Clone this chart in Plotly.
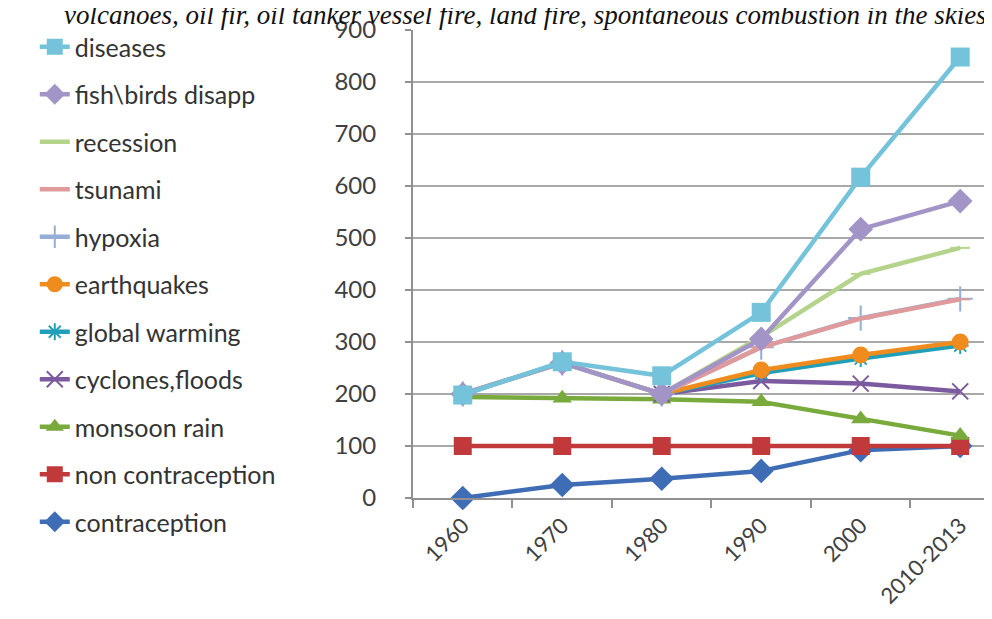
import plotly.graph_objects as go

# categories on the x axis
periods = ['1960', '1970', '1980', '1990', '2000', '2010-2013']

# series values (None = no point)
contraception = [0, 25, 37, 52, 92, 100]
non_contraception = [100, 100, 100, 100, 100, 100]
monsoon_rain = [194, 192, 190, 185, 152, 120]
cyclones_floods = [None, None, 200, 225, 220, 205]
global_warming = [None, None, 200, 240, 268, 293]
earthquakes = [None, None, 200, 246, 275, 300]
hypoxia = [200, 260, 200, 290, 346, 383]
tsunami = [200, 260, 200, 290, 345, 382]
recession = [200, 260, 200, 310, 431, 481]
fish_birds = [200, 260, 200, 306, 517, 571]
diseases = [198, 262, 235, 357, 617, 848]

title_text = 'volcanoes, oil fir, oil tanker vessel fire, land fire, spontaneous combustion in the skies'

# name, values, colour, marker symbol, marker size (drawn bottom to top)
series = [
    ('contraception', contraception, '#3F6DB5', 'diamond', 19),
    ('non contraception', non_contraception, '#C1393A', 'square', 18),
    ('monsoon rain', monsoon_rain, '#78AB3C', 'triangle-up', 17),
    ('cyclones,floods', cyclones_floods, '#7B5A9F', 'x-thin', 16),
    ('global warming', global_warming, '#20A0B8', 'asterisk', 14),
    ('earthquakes', earthquakes, '#F08C1E', 'circle', 17),
    ('hypoxia', hypoxia, '#94AED6', 'cross-thin', 18),
    ('tsunami', tsunami, '#E09A9C', 'line-ew', 14),
    ('recession', recession, '#B4D48C', 'line-ew', 14),
    ('fish\\birds disapp', fish_birds, '#A294C6', 'diamond', 19),
    ('diseases', diseases, '#74C3DB', 'square', 19),
]

fig = go.Figure()
n = len(series)
for i, (name, vals, col, sym, sz) in enumerate(series):
    thin = sym in ('x-thin', 'cross-thin', 'asterisk', 'line-ew')
    fig.add_trace(go.Scatter(
        x=periods, y=vals, name=name, mode='lines+markers',
        line=dict(color=col, width=4.5),
        marker=dict(symbol=sym, size=sz, color=col,
                    line=dict(color=col, width=2 if thin else 0)),
        legendgroup='g%d' % i,
        legendrank=n - i,
        cliponaxis=False,
        connectgaps=False,
    ))

fig.update_layout(
    width=992, height=619,
    margin=dict(l=405, r=0, t=22, b=129),
    plot_bgcolor='white', paper_bgcolor='white',
    font=dict(family='Lato', size=20, color='#404040'),
    legend=dict(
        xref='container', yref='container',
        x=0.027, y=1 - 16 / 619, xanchor='left', yanchor='top',
        traceorder='grouped', tracegroupgap=12, maxheight=610,
        font=dict(family='Lato', size=25, color='#333333'),
        bgcolor='rgba(0,0,0,0)',
    ),
    annotations=[dict(
        text='<i>' + title_text + '</i>',
        xref='paper', yref='paper', x=0.192, y=1.031,
        xanchor='center', yanchor='middle', showarrow=False,
        font=dict(family='Liberation Serif', size=27, color='#111111'),
    )],
)

fig.update_xaxes(
    type='category', range=[-0.5, 5.4],
    showline=True, linecolor='#909090', linewidth=2,
    ticks='outside', tickson='boundaries', ticklen=8, tickcolor='#909090', tickwidth=2,
    tickangle=-45, showgrid=False, ticklabelstandoff=4,
    tickfont=dict(family='Lato', size=22, color='#404040'),
)
fig.update_yaxes(
    range=[0, 900], dtick=100,
    showline=True, linecolor='#909090', linewidth=2,
    ticks='outside', ticklen=6, tickcolor='#909090', tickwidth=2,
    showgrid=True, gridcolor='#A8A8A8', gridwidth=2,
    zeroline=False, ticklabelstandoff=24,
    tickfont=dict(family='Lato', size=24, color='#404040'),
)

fig.write_html("out.html")
